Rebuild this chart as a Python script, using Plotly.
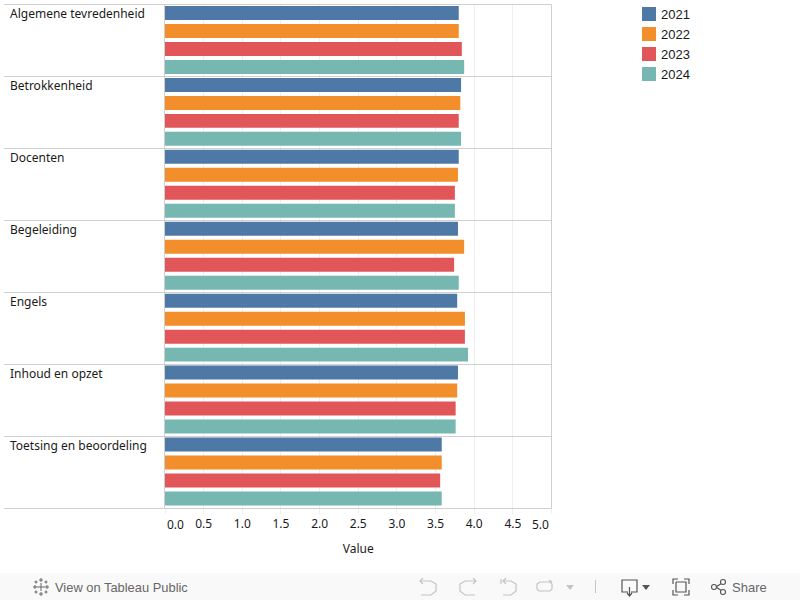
import plotly.graph_objects as go

W, H = 800, 600
categories = ["Algemene tevredenheid", "Betrokkenheid", "Docenten", "Begeleiding",
              "Engels", "Inhoud en opzet", "Toetsing en beoordeling"]
years = ["2021", "2022", "2023", "2024"]
colors = ["#4E79A7", "#F28E2B", "#E15759", "#76B7B2"]
v2021 = [3.80, 3.83, 3.80, 3.79, 3.78, 3.79, 3.58]
v2022 = [3.80, 3.82, 3.79, 3.87, 3.88, 3.78, 3.58]
v2023 = [3.84, 3.80, 3.75, 3.74, 3.88, 3.76, 3.56]
v2024 = [3.87, 3.83, 3.75, 3.80, 3.92, 3.76, 3.58]
series = [v2021, v2022, v2023, v2024]
tick_vals = [0, 0.5, 1, 1.5, 2, 2.5, 3, 3.5, 4, 4.5, 5]
tick_text = ["", "0.5", "1.0", "1.5", "2.0", "2.5", "3.0", "3.5", "4.0", "4.5", ""]

LABEL = "Noto Sans"
UI = "Liberation Sans"
RULE = "#cfcfcf"
GRID = "#efefef"
INK = "#1a1a1a"

def px(x): return x / W
def py(y): return 1 - y / H

fig = go.Figure()
for year, vals, col in zip(years, series, colors):
    fig.add_trace(go.Bar(y=categories, x=vals, name=year, orientation="h",
                         marker=dict(color=col, line=dict(width=0))))

shapes = []
# footer band
shapes.append(dict(type="rect", xref="paper", yref="paper", x0=0, x1=1, y0=0, y1=py(573),
                   fillcolor="#f9f9f9", line=dict(width=0), layer="below"))
# panel separators
panel_h = (508 - 4) / len(categories)
for i in range(len(categories) + 1):
    yy = py(4.5 + panel_h * i)
    shapes.append(dict(type="line", xref="paper", yref="paper", x0=px(4), x1=px(551.5),
                       y0=yy, y1=yy, line=dict(color=RULE, width=1)))
# right border and row-axis line
for xp in (164.5, 551.5):
    shapes.append(dict(type="line", xref="paper", yref="paper", x0=px(xp), x1=px(xp),
                       y0=py(508.5), y1=py(4.5), line=dict(color=RULE, width=1)))

def icon(path_pts, color="#c4c4c4", width=1.2):
    d = ""
    for seg in path_pts:
        d += "M" + " L".join(f"{px(x):.5f},{py(y):.5f}" for x, y in seg) + " "
    shapes.append(dict(type="path", xref="paper", yref="paper", path=d.strip(),
                       line=dict(color=color, width=width)))

def fill_tri(x, y, w, h, color):
    d = f"M{px(x):.5f},{py(y):.5f} L{px(x+w):.5f},{py(y):.5f} L{px(x+w/2):.5f},{py(y+h):.5f} Z"
    shapes.append(dict(type="path", xref="paper", yref="paper", path=d,
                       fillcolor=color, line=dict(width=0)))

# undo
icon([[(420, 581), (431, 581), (436, 584), (436, 591), (431, 595), (421, 595)], [(423, 578), (420, 581), (423, 584)]])
# redo
icon([[(476, 581), (465, 581), (460, 584), (460, 591), (465, 595), (475, 595)], [(473, 578), (476, 581), (473, 584)]])
# revert
icon([[(503, 581), (511, 581), (516, 584), (516, 591), (511, 595), (503, 595)], [(501, 579), (501, 584)], [(506, 578), (503, 581), (506, 584)]])
# refresh
icon([[(540, 582), (550, 582), (552, 584), (552, 589), (550, 591), (539, 591), (537, 589), (537, 584), (540, 582)], [(549, 580), (552, 582)]])
fill_tri(566, 585, 8, 5, "#c4c4c4")
icon([[(595.5, 580), (595.5, 593)]], "#c4c4c4", 1)
# download
icon([[(628, 592), (622, 592), (622, 580), (637, 580), (637, 592), (631, 592)], [(629.5, 587), (629.5, 595)], [(627, 593), (629.5, 596), (632, 593)]], "#555555")
fill_tri(642, 585, 8, 5, "#555555")
# fullscreen
icon([[(673, 584), (673, 579), (678, 579)], [(684, 579), (689, 579), (689, 584)],
      [(689, 590), (689, 595), (684, 595)], [(678, 595), (673, 595), (673, 590)],
      [(676, 582), (686, 582), (686, 592), (676, 592), (676, 582)]], "#555555")
# share
icon([[(716, 587), (722, 583)], [(716, 587), (722, 591)]], "#555555")
for cx, cy in [(714, 587), (723, 582), (723, 592)]:
    shapes.append(dict(type="circle", xref="paper", yref="paper",
                       x0=px(cx - 2.5), x1=px(cx + 2.5), y0=py(cy + 2.5), y1=py(cy - 2.5),
                       fillcolor="#f9f9f9", line=dict(color="#555555", width=1.1)))
# tableau mark
for cx, cy, r in [(41, 587, 4), (35, 587, 2), (47, 587, 2), (41, 580, 2), (41, 594, 2),
                  (36, 582, 1.5), (46, 582, 1.5), (36, 592, 1.5), (46, 592, 1.5)]:
    icon([[(cx - r, cy), (cx + r, cy)], [(cx, cy - r), (cx, cy + r)]], "#666666", 1)

ann = []
for c in categories:
    ann.append(dict(text=c, xref="paper", yref="y", x=px(8), y=c, xanchor="left", yanchor="middle",
                    yshift=26, showarrow=False, font=dict(family=LABEL, size=12, color=INK)))
ann.append(dict(text=f"{tick_vals[0]:.1f}", xref="x", yref="paper", x=tick_vals[0], y=py(524), xshift=10,
                xanchor="center", yanchor="middle", showarrow=False, font=dict(family=LABEL, size=12, color=INK)))
ann.append(dict(text=f"{tick_vals[-1]:.1f}", xref="x", yref="paper", x=tick_vals[-1], y=py(524), xshift=-11,
                xanchor="center", yanchor="middle", showarrow=False, font=dict(family=LABEL, size=12, color=INK)))
ann.append(dict(text="View on Tableau Public", xref="paper", yref="paper", x=px(53), y=py(587), xanchor="left",
                yanchor="middle", showarrow=False, font=dict(family=UI, size=12.9, color="#666666")))
ann.append(dict(text="Share", xref="paper", yref="paper", x=px(730), y=py(587), xanchor="left",
                yanchor="middle", showarrow=False, font=dict(family=UI, size=13, color="#666666")))

# legend, built from the series names and colours
for i, (year, col) in enumerate(zip(years, colors)):
    top = 7 + 20 * i
    shapes.append(dict(type="rect", xref="paper", yref="paper", x0=px(642), x1=px(656),
                       y0=py(top + 14), y1=py(top), fillcolor=col, line=dict(width=0)))
    ann.append(dict(text=year, xref="paper", yref="paper", x=px(659), y=py(top + 7.5), xanchor="left",
                    yanchor="middle", showarrow=False, font=dict(family=UI, size=13, color=INK)))

fig.update_layout(
    width=W, height=H, margin=dict(l=0, r=0, t=0, b=0), autosize=False,
    paper_bgcolor="white", plot_bgcolor="white",
    barmode="group", bargap=0, bargroupgap=4 / 18,
    showlegend=False,
    xaxis=dict(domain=[px(165), px(551.5)], range=[0, 5], tickmode="array", tickvals=tick_vals,
               ticktext=tick_text, showgrid=True, gridcolor=GRID, gridwidth=1, zeroline=False,
               ticks="outside", ticklen=5, tickcolor=GRID, tickfont=dict(family=LABEL, size=12, color=INK),
               title=dict(text="Value", font=dict(family=LABEL, size=12, color=INK), standoff=13),
               showline=False),
    yaxis=dict(domain=[py(508), py(4)], autorange="reversed", showticklabels=False, ticks="",
               showgrid=False, zeroline=False, showline=False),
    shapes=shapes, annotations=ann,
    hovermode="closest",
)
fig.write_html("out.html", config=dict(displayModeBar=False),
               post_script="document.body.style.margin='0';document.body.style.overflow='hidden';")
